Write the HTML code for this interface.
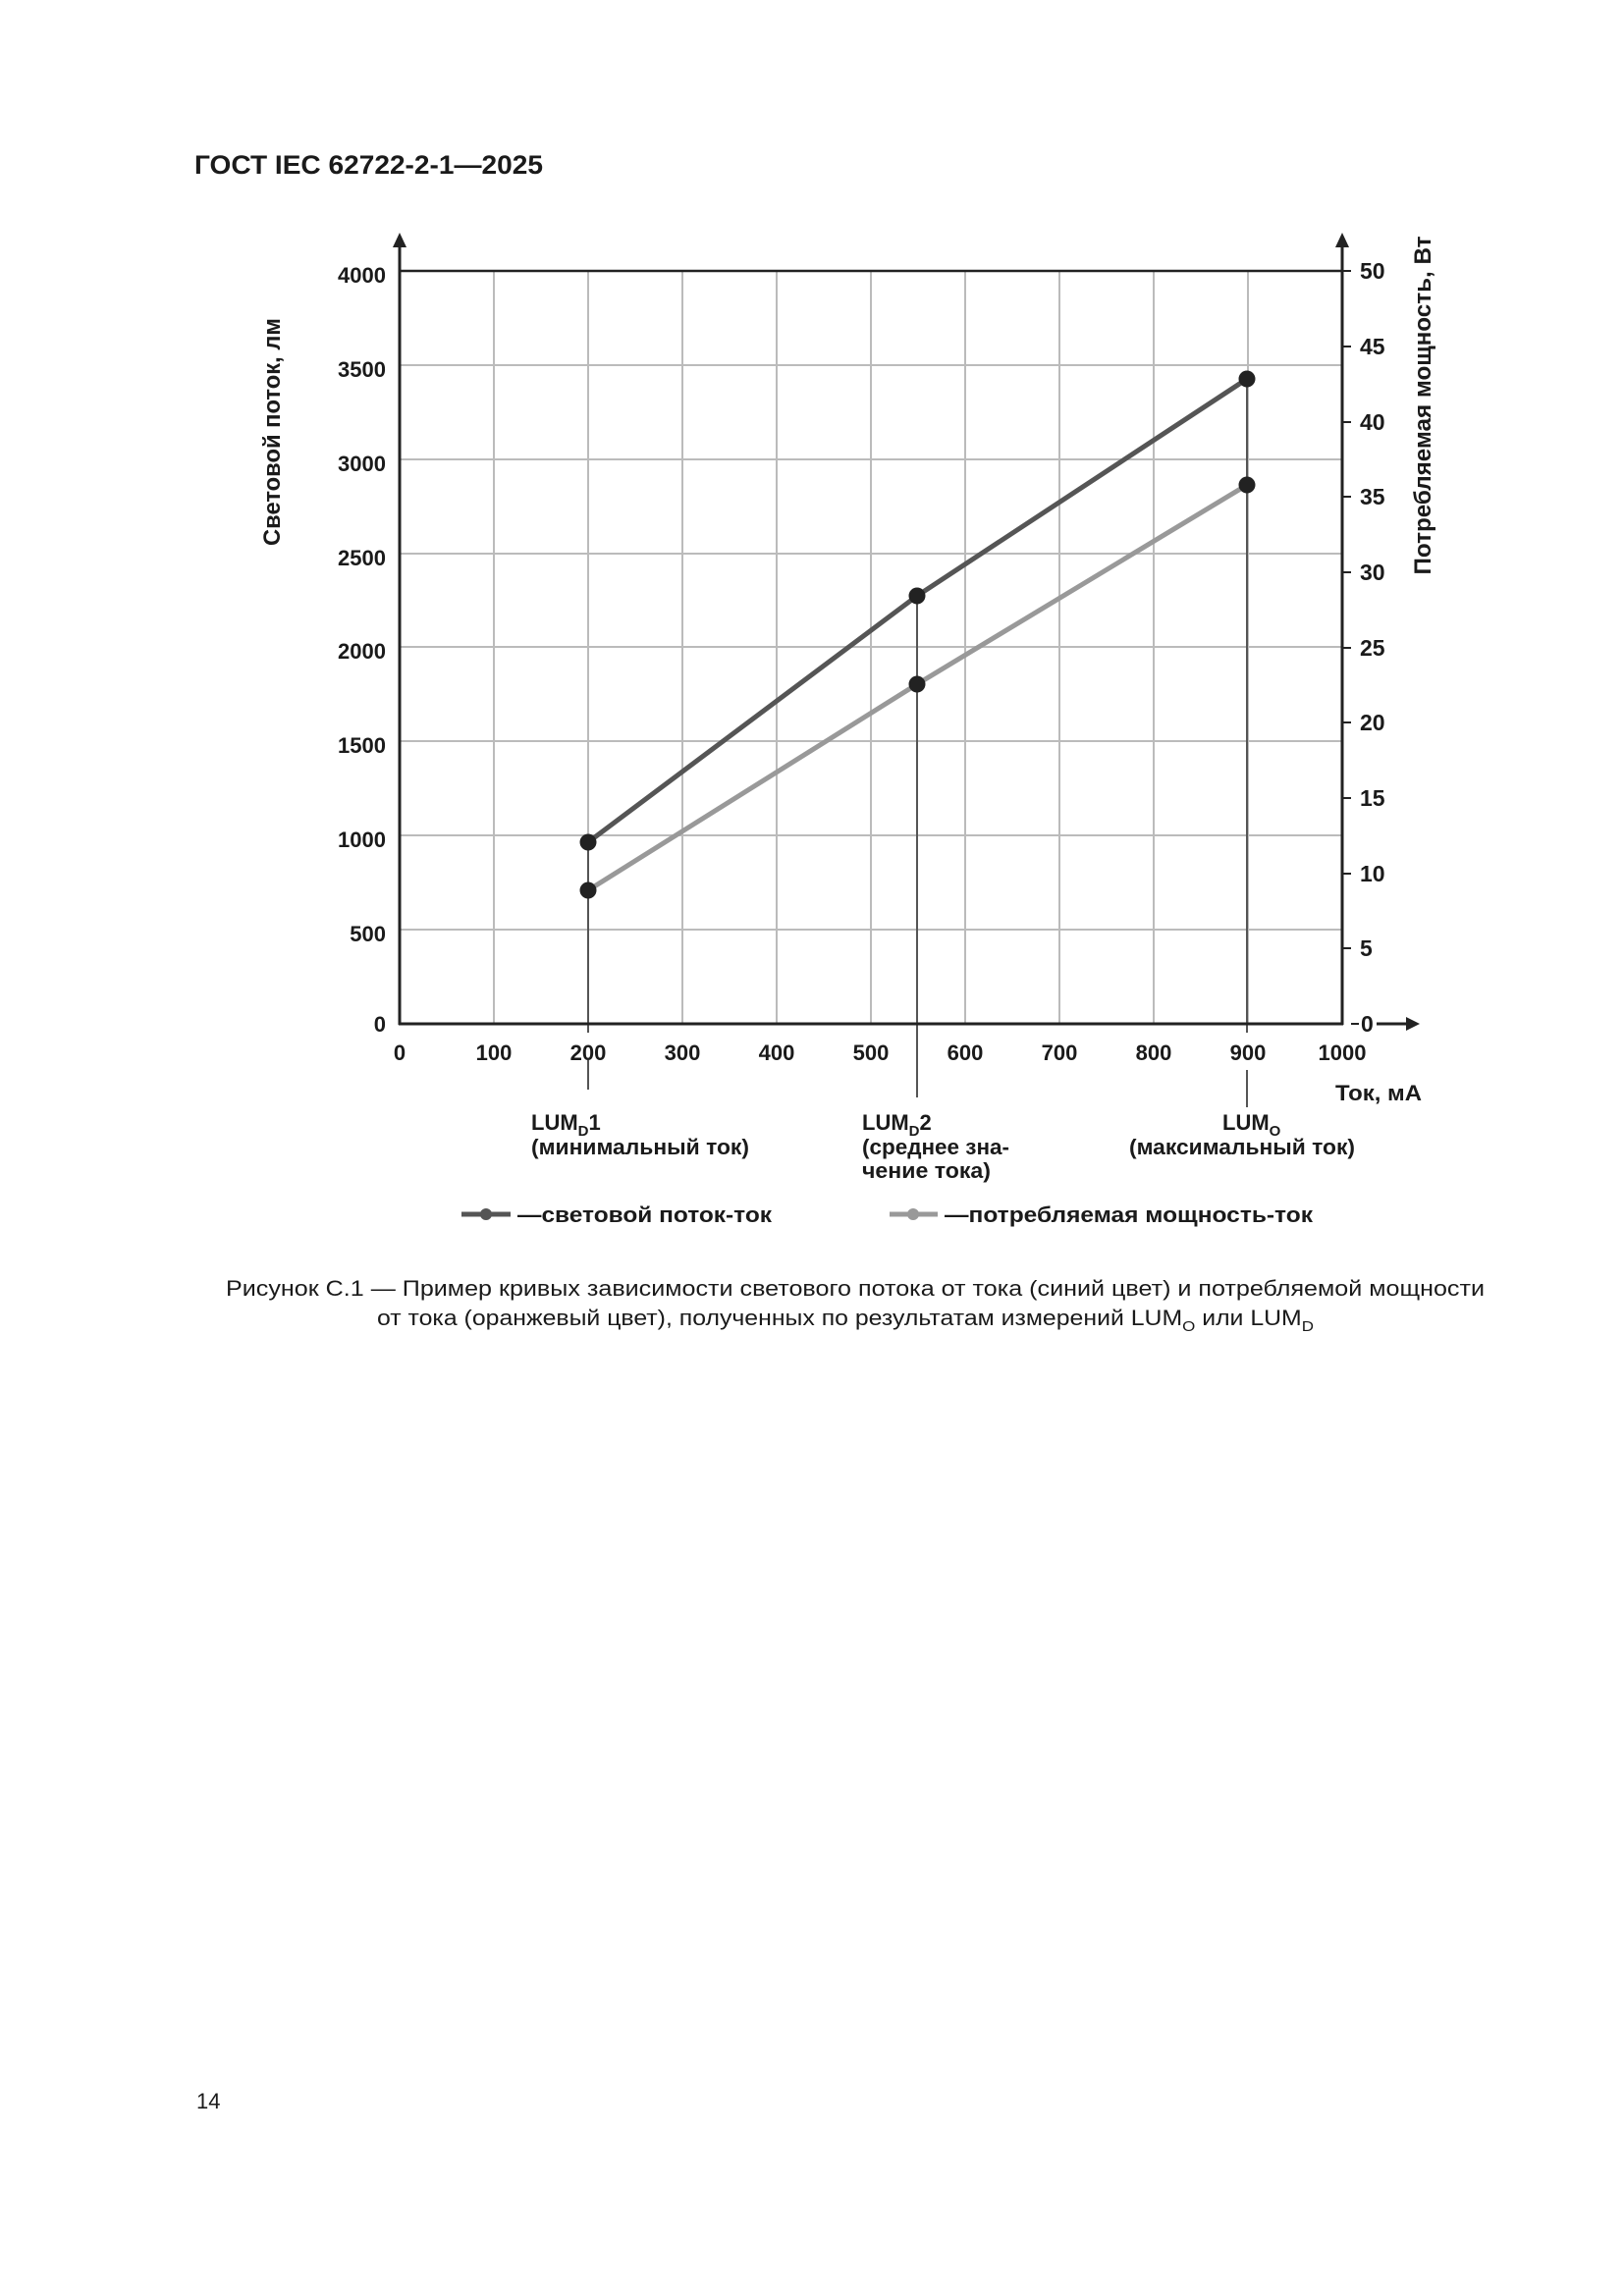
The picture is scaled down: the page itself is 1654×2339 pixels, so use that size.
<!DOCTYPE html>
<html><head><meta charset="utf-8"><style>
html,body{margin:0;padding:0;background:#fff}
svg{display:block}
text{font-family:"Liberation Sans",Arial,sans-serif;fill:#1a1a1a}
.b{font-weight:bold}
</style></head><body>
<svg width="1654" height="2339" viewBox="0 0 1654 2339" xmlns="http://www.w3.org/2000/svg">
<text x="198" y="177" class="b" font-size="27" textLength="355" lengthAdjust="spacingAndGlyphs">ГОСТ IEC 62722-2-1—2025</text>
<g stroke="#bbb" stroke-width="2">
<line x1="503" y1="276" x2="503" y2="1043"/><line x1="599" y1="276" x2="599" y2="1043"/>
<line x1="695" y1="276" x2="695" y2="1043"/><line x1="791" y1="276" x2="791" y2="1043"/>
<line x1="887" y1="276" x2="887" y2="1043"/><line x1="983" y1="276" x2="983" y2="1043"/>
<line x1="1079" y1="276" x2="1079" y2="1043"/><line x1="1175" y1="276" x2="1175" y2="1043"/>
<line x1="1271" y1="276" x2="1271" y2="1043"/>
<line x1="407" y1="372" x2="1367" y2="372"/><line x1="407" y1="468" x2="1367" y2="468"/>
<line x1="407" y1="564" x2="1367" y2="564"/><line x1="407" y1="659" x2="1367" y2="659"/>
<line x1="407" y1="755" x2="1367" y2="755"/><line x1="407" y1="851" x2="1367" y2="851"/>
<line x1="407" y1="947" x2="1367" y2="947"/>
</g>
<line x1="407" y1="276" x2="1367" y2="276" stroke="#222" stroke-width="2.5"/>
<g stroke="#555" stroke-width="2">
<line x1="599" y1="858" x2="599" y2="1052"/><line x1="599" y1="1080" x2="599" y2="1110"/>
<line x1="934" y1="607" x2="934" y2="1118"/>
<line x1="1270" y1="386" x2="1270" y2="1052"/><line x1="1270" y1="1090" x2="1270" y2="1128"/>
</g>
<polyline points="599,858 934,607 1270,386" fill="none" stroke="#555" stroke-width="5"/>
<polyline points="599,907 934,697 1270,494" fill="none" stroke="#999" stroke-width="5"/>
<g fill="#222">
<circle cx="599" cy="858" r="8.5"/><circle cx="934" cy="607" r="8.5"/><circle cx="1270" cy="386" r="8.5"/>
<circle cx="599" cy="907" r="8.5"/><circle cx="934" cy="697" r="8.5"/><circle cx="1270" cy="494" r="8.5"/>
</g>
<g stroke="#222" stroke-width="3">
<line x1="407" y1="245" x2="407" y2="1044"/>
<line x1="1367" y1="245" x2="1367" y2="1044"/>
<line x1="406" y1="1043" x2="1368" y2="1043"/>
<line x1="1402" y1="1043" x2="1436" y2="1043"/>
</g>
<g fill="#222">
<polygon points="407,237 400,252 414,252"/><polygon points="1367,237 1360,252 1374,252"/>
<polygon points="1446,1043 1432,1036 1432,1050"/>
</g>
<g stroke="#222" stroke-width="2">
<line x1="1367" y1="276" x2="1376" y2="276"/><line x1="1367" y1="353" x2="1376" y2="353"/>
<line x1="1367" y1="430" x2="1376" y2="430"/><line x1="1367" y1="506" x2="1376" y2="506"/>
<line x1="1367" y1="583" x2="1376" y2="583"/><line x1="1367" y1="660" x2="1376" y2="660"/>
<line x1="1367" y1="736" x2="1376" y2="736"/><line x1="1367" y1="813" x2="1376" y2="813"/>
<line x1="1367" y1="890" x2="1376" y2="890"/><line x1="1367" y1="966" x2="1376" y2="966"/>
<line x1="1376" y1="1043" x2="1384" y2="1043"/>
</g>
<g font-size="22" class="b" text-anchor="end">
<text x="393" y="288">4000</text><text x="393" y="384">3500</text><text x="393" y="480">3000</text>
<text x="393" y="576">2500</text><text x="393" y="671">2000</text><text x="393" y="767">1500</text>
<text x="393" y="863">1000</text><text x="393" y="959">500</text><text x="393" y="1051">0</text>
</g>
<g font-size="23" class="b">
<text x="1385" y="284">50</text><text x="1385" y="361">45</text><text x="1385" y="438">40</text>
<text x="1385" y="514">35</text><text x="1385" y="591">30</text><text x="1385" y="668">25</text>
<text x="1385" y="744">20</text><text x="1385" y="821">15</text><text x="1385" y="898">10</text>
<text x="1385" y="974">5</text><text x="1386" y="1051">0</text>
</g>
<g font-size="22" class="b" text-anchor="middle">
<text x="407" y="1080">0</text><text x="503" y="1080">100</text><text x="599" y="1080">200</text>
<text x="695" y="1080">300</text><text x="791" y="1080">400</text><text x="887" y="1080">500</text>
<text x="983" y="1080">600</text><text x="1079" y="1080">700</text><text x="1175" y="1080">800</text>
<text x="1271" y="1080">900</text><text x="1367" y="1080">1000</text>
</g>
<text x="1360" y="1121" font-size="22" class="b" textLength="88" lengthAdjust="spacingAndGlyphs">Ток, мА</text>
<text transform="translate(285,440) rotate(-90)" text-anchor="middle" font-size="24" class="b" textLength="232" lengthAdjust="spacingAndGlyphs">Световой поток, лм</text>
<text transform="translate(1457,413) rotate(-90)" text-anchor="middle" font-size="24" class="b" textLength="345" lengthAdjust="spacingAndGlyphs">Потребляемая мощность, Вт</text>
<g font-size="22" class="b">
<text x="541" y="1151">LUM<tspan font-size="15" dy="6">D</tspan><tspan dy="-6">1</tspan></text>
<text x="541" y="1176" textLength="222" lengthAdjust="spacingAndGlyphs">(минимальный ток)</text>
<text x="878" y="1151">LUM<tspan font-size="15" dy="6">D</tspan><tspan dy="-6">2</tspan></text>
<text x="878" y="1176" textLength="150" lengthAdjust="spacingAndGlyphs">(среднее зна-</text>
<text x="878" y="1200" textLength="131" lengthAdjust="spacingAndGlyphs">чение тока)</text>
<text x="1245" y="1151">LUM<tspan font-size="15" dy="6">O</tspan></text>
<text x="1150" y="1176" textLength="230" lengthAdjust="spacingAndGlyphs">(максимальный ток)</text>
</g>
<line x1="470" y1="1237" x2="520" y2="1237" stroke="#555" stroke-width="5"/><circle cx="495" cy="1237" r="6" fill="#555"/>
<text x="527" y="1245" font-size="22" class="b" textLength="259" lengthAdjust="spacingAndGlyphs">—световой поток-ток</text>
<line x1="906" y1="1237" x2="955" y2="1237" stroke="#999" stroke-width="5"/><circle cx="930" cy="1237" r="6" fill="#999"/>
<text x="962" y="1245" font-size="22" class="b" textLength="375" lengthAdjust="spacingAndGlyphs">—потребляемая мощность-ток</text>
<text x="230" y="1320" font-size="22" textLength="1282" lengthAdjust="spacingAndGlyphs">Рисунок С.1 — Пример кривых зависимости светового потока от тока (синий цвет) и потребляемой мощности</text>
<text x="384" y="1350" font-size="22" textLength="954" lengthAdjust="spacingAndGlyphs">от тока (оранжевый цвет), полученных по результатам измерений LUM<tspan font-size="15" dy="6">O</tspan><tspan dy="-6"> или LUM</tspan><tspan font-size="15" dy="6">D</tspan></text>
<text x="200" y="2148" font-size="22">14</text>
</svg>
</body></html>
